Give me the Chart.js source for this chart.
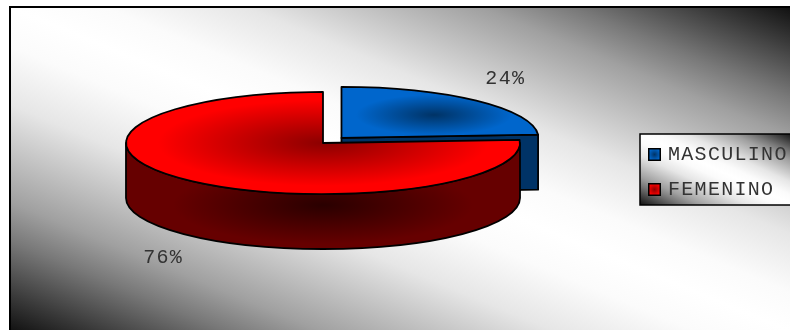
<!DOCTYPE html>
<html>
<head>
<meta charset="utf-8">
<style>
  html, body { margin: 0; padding: 0; background: #fff; overflow: hidden; }
  canvas { display: block; }
</style>
<script src="https://cdn.jsdelivr.net/npm/chart.js@4/dist/chart.umd.min.js"></script>
</head>
<body>
<canvas id="grafica" width="790" height="330"></canvas>
<script>
const categorias = ['MASCULINO', 'FEMENINO'];
const porcentajes = [24, 76];

const fuente = { family: '"Liberation Mono", monospace', size: 20 };
const radio = 197;
const aplastado = 0.259;   // alto/ancho de la elipse
const profundidad = 55;
const separacion = 27;     // cuanto se sale la porcion azul
const centroY = 143;
const marco = { left: 10, top: 7, right: 792, bottom: 332 };
const marcoLeyenda = { left: 640, top: 134, right: 794, bottom: 205 };

const caras = [
  { centro: '#003366', borde: '#0066cc', pared: '#003366' },
  { centro: '#8c0000', borde: '#ff0000', pared: '#660000' }
];

// degradado diagonal: oscuro en las esquinas superior derecha e inferior izquierda
const degradadoDiagonal = (ctx, r) => {
  const w = r.right - r.left, h = r.bottom - r.top;
  const largo = Math.hypot(w, h);
  const nx = h / largo, ny = -w / largo;
  const d = (w / 2) * nx - (h / 2) * ny;
  const cx = (r.left + r.right) / 2, cy = (r.top + r.bottom) / 2;
  const g = ctx.createLinearGradient(cx + nx * d, cy + ny * d, cx - nx * d, cy - ny * d);
  g.addColorStop(0, '#101010');
  g.addColorStop(0.055, '#383838');
  g.addColorStop(0.14, '#787878');
  g.addColorStop(0.2, '#a0a0a0');
  g.addColorStop(0.35, '#e6e6e6');
  g.addColorStop(0.44, '#fbfbfb');
  g.addColorStop(0.5, '#ffffff');
  g.addColorStop(0.56, '#fbfbfb');
  g.addColorStop(0.65, '#e6e6e6');
  g.addColorStop(0.8, '#a0a0a0');
  g.addColorStop(0.86, '#787878');
  g.addColorStop(0.945, '#383838');
  g.addColorStop(1, '#101010');
  return g;
};

const crearMarcador = (i) => {
  const c = document.createElement('canvas');
  c.width = 13;
  c.height = 13;
  const x = c.getContext('2d');
  const g = x.createRadialGradient(6.5, 6.5, 0, 6.5, 6.5, 6);
  g.addColorStop(0, caras[i].centro);
  g.addColorStop(1, caras[i].borde);
  x.fillStyle = g;
  x.fillRect(1, 1, 11, 11);
  x.strokeStyle = '#000';
  x.lineWidth = 1.5;
  x.strokeRect(0.75, 0.75, 11.5, 11.5);
  return c;
};

const colorCara = (c) => {
  const area = c.chart.chartArea;
  if (!area) return caras[c.dataIndex].borde;
  const x = (area.left + area.right) / 2, y = (area.top + area.bottom) / 2;
  let g;
  if (c.dataIndex === 0) {
    const gx = x + radio * 0.47, gy = y - radio * 0.45;
    g = c.chart.ctx.createRadialGradient(gx, gy, 0, gx, gy, 78);
  } else {
    g = c.chart.ctx.createRadialGradient(x, y, 0, x, y, 165);
  }
  g.addColorStop(0, caras[c.dataIndex].centro);
  g.addColorStop(1, caras[c.dataIndex].borde);
  return g;
};

const fondo = {
  id: 'fondo',
  afterLayout(chart) {
    chart.legend.left = 636;
    chart.legend.top = 129.5;
  },
  beforeDraw(chart) {
    const ctx = chart.ctx;
    ctx.save();
    ctx.fillStyle = degradadoDiagonal(ctx, marco);
    ctx.fillRect(marco.left, marco.top, marco.right - marco.left, marco.bottom - marco.top);
    ctx.strokeStyle = '#000';
    ctx.lineWidth = 2;
    ctx.strokeRect(marco.left, marco.top, marco.right - marco.left, marco.bottom - marco.top);

    const l = marcoLeyenda;
    ctx.fillStyle = degradadoDiagonal(ctx, l);
    ctx.fillRect(l.left, l.top, l.right - l.left, l.bottom - l.top);
    ctx.lineWidth = 1.5;
    ctx.strokeRect(l.left, l.top, l.right - l.left, l.bottom - l.top);
    ctx.restore();
    ctx.letterSpacing = '1.3px';   // la fuente del original es mas ancha
  }
};

const torta3d = {
  id: 'torta3d',
  beforeDatasetDraw(chart) {
    const ctx = chart.ctx;
    const arcos = chart.getDatasetMeta(0).data;
    const total = porcentajes.reduce((a, b) => a + b, 0);

    arcos.forEach((arco, i) => {
      const medio = (arco.startAngle + arco.endAngle) / 2;
      const desp = i === 0 ? separacion : 0;
      const cx = arco.x + Math.cos(medio) * desp;
      const cy = centroY + Math.sin(medio) * desp * aplastado;
      const rx = arco.outerRadius, ry = rx * aplastado;

      ctx.save();
      ctx.strokeStyle = '#000';
      ctx.lineWidth = 1.8;
      ctx.lineJoin = 'round';

      // pared exterior, solo la parte de adelante
      const desde = Math.max(arco.startAngle, 0), hasta = Math.min(arco.endAngle, Math.PI);
      if (hasta > desde) {
        ctx.beginPath();
        ctx.ellipse(cx, cy, rx, ry, 0, desde, hasta);
        ctx.ellipse(cx, cy + profundidad, rx, ry, 0, hasta, desde, true);
        ctx.closePath();
        ctx.save();
        ctx.translate(cx, cy + ry + profundidad * 0.2);
        ctx.scale(1, 0.26);
        const g = ctx.createRadialGradient(0, 0, 0, 0, 0, 150);
        g.addColorStop(0, '#2a0000');
        g.addColorStop(1, caras[i].pared);
        ctx.fillStyle = g;
        ctx.fill();
        ctx.restore();
        ctx.stroke();
      }

      // cara del corte, visible en la porcion que termina atras a la derecha
      if (arco.endAngle < 0) {
        const ex = cx + Math.cos(arco.endAngle) * rx;
        const ey = cy + Math.sin(arco.endAngle) * ry;
        ctx.beginPath();
        ctx.moveTo(cx, cy);
        ctx.lineTo(ex, ey);
        ctx.lineTo(ex, ey + profundidad);
        ctx.lineTo(cx, cy + profundidad);
        ctx.closePath();
        ctx.fillStyle = caras[i].pared;
        ctx.fill();
        ctx.stroke();
      }

      // cara de arriba
      ctx.save();
      ctx.translate(cx, cy);
      ctx.scale(1, aplastado);
      ctx.translate(-arco.x, -arco.y);
      arco.draw(ctx);
      ctx.restore();

      ctx.beginPath();
      ctx.moveTo(cx, cy);
      ctx.ellipse(cx, cy, rx, ry, 0, arco.startAngle, arco.endAngle);
      ctx.closePath();
      ctx.stroke();
      ctx.restore();
    });

    // etiquetas de porcentaje
    ctx.save();
    ctx.font = fuente.size + 'px ' + fuente.family;
    ctx.fillStyle = '#333';
    ctx.textAlign = 'center';
    ctx.textBaseline = 'middle';
    arcos.forEach((arco, i) => {
      const medio = (arco.startAngle + arco.endAngle) / 2;
      const desp = i === 0 ? separacion : 0;
      const dist = arco.outerRadius * 1.2;
      const abajo = Math.sin(medio) > 0 ? profundidad : 0;
      const x = arco.x + Math.cos(medio) * (dist + desp) + 2;
      const y = centroY + Math.sin(medio) * (dist * 0.345 + desp * aplastado) + abajo;
      ctx.fillText(Math.round(porcentajes[i] / total * 100) + '%', x, y);
    });
    ctx.restore();
    return false;
  }
};

const graficaCtx = document.getElementById('grafica').getContext('2d');
const grafica = new Chart(graficaCtx, {
  type: 'pie',
  data: {
    labels: categorias,
    datasets: [
      {
        data: porcentajes,
        backgroundColor: colorCara,
        borderWidth: 0
      }
    ]
  },
  options: {
    responsive: false,
    animation: false,
    radius: radio,
    layout: { padding: { left: 6 } },
    plugins: {
      tooltip: { enabled: false },
      legend: {
        position: 'right',
        align: 'start',
        labels: {
          usePointStyle: true,
          pointStyleWidth: 7,
          padding: 15,
          color: '#333',
          font: fuente,
          generateLabels: () =>
            categorias.map((text, i) => ({
              text,
              index: i,
              datasetIndex: 0,
              hidden: false,
              pointStyle: crearMarcador(i),
              fontColor: '#333'
            }))
        }
      }
    }
  },
  plugins: [fondo, torta3d]
});
</script>
</body>
</html>
